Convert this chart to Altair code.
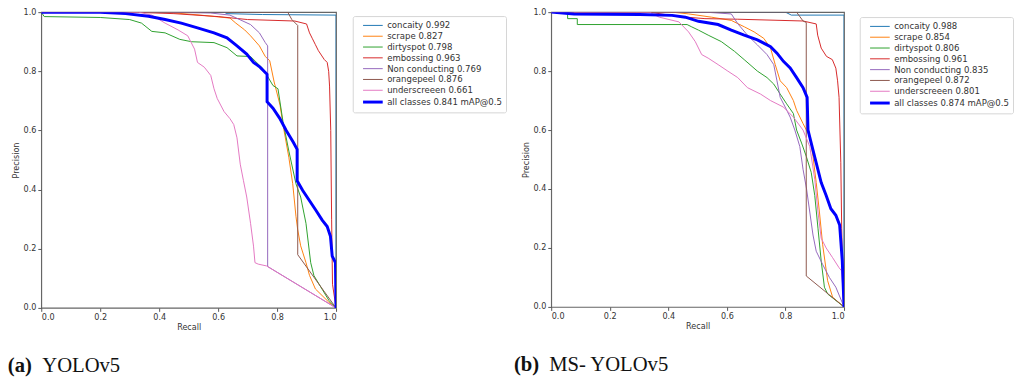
import altair as alt
import pandas as pd

# ---------------- Panel (a) YOLOv5 ----------------
a_labels = ["concaity 0.992", "scrape 0.827", "dirtyspot 0.798", "embossing 0.963",
            "Non conducting 0.769", "orangepeel 0.876", "underscreeen 0.661",
            "all classes 0.841 mAP@0.5"]

a_concaity_r = [0, 0.62, 0.63, 0.75, 1.0, 1.0]
a_concaity_p = [1, 1, 0.995, 0.992, 0.99, 0]

a_scrape_r = [0, 0.42, 0.54, 0.64, 0.66, 0.69, 0.71, 0.74, 0.76, 0.775, 0.79, 0.81, 0.82, 0.83,
              0.84, 0.853, 0.864, 0.87, 0.88, 0.898, 0.91, 0.93, 0.975, 1.0]
a_scrape_p = [1, 1, 0.99, 0.98, 0.963, 0.94, 0.92, 0.886, 0.85, 0.836, 0.764, 0.686, 0.62, 0.564,
              0.508, 0.42, 0.31, 0.264, 0.21, 0.153, 0.11, 0.064, 0.02, 0]

a_dirty_r = [0, 0.01, 0.2, 0.3, 0.34, 0.375, 0.42, 0.47, 0.51, 0.586, 0.63, 0.664, 0.71, 0.753,
             0.786, 0.803, 0.82, 0.84, 0.864, 0.88, 0.898, 0.914, 0.925, 0.976, 1.0]
a_dirty_p = [1, 0.985, 0.982, 0.975, 0.963, 0.935, 0.93, 0.908, 0.9, 0.897, 0.88, 0.852, 0.85, 0.808,
             0.752, 0.741, 0.63, 0.53, 0.42, 0.375, 0.286, 0.153, 0.109, 0.025, 0]

a_emb_r = [0, 0.3, 0.45, 0.6, 0.7, 0.86, 0.9, 0.91, 0.92, 0.93, 0.94, 0.95, 0.96, 0.97,
           0.975, 0.978, 0.982, 0.985, 0.988, 1.0]
a_emb_p = [1, 1, 0.995, 0.985, 0.975, 0.97, 0.96, 0.93, 0.91, 0.89, 0.87, 0.855, 0.84, 0.83,
           0.8, 0.75, 0.6, 0.3, 0.08, 0]

a_noncond_r = [0, 0.4, 0.575, 0.64, 0.71, 0.74, 0.76, 0.768, 0.768, 1.0]
a_noncond_p = [1, 1, 0.997, 0.99, 0.958, 0.93, 0.897, 0.886, 0.14, 0]

a_orange_r = [0, 0.836, 0.85, 0.865, 0.87, 0.87, 1.0]
a_orange_p = [1, 1, 0.975, 0.96, 0.955, 0.18, 0]

a_under_r = [0, 0.33, 0.375, 0.42, 0.464, 0.497, 0.52, 0.53, 0.553, 0.575, 0.586, 0.597, 0.62,
             0.64, 0.653, 0.664, 0.675, 0.686, 0.697, 0.71, 0.72, 0.725, 0.736, 0.764, 1.0]
a_under_p = [1, 1, 0.99, 0.963, 0.94, 0.92, 0.875, 0.83, 0.814, 0.786, 0.741, 0.708, 0.664,
             0.64, 0.62, 0.575, 0.486, 0.43, 0.375, 0.286, 0.209, 0.153, 0.148, 0.142, 0]

a_all_r = [0, 0.2, 0.286, 0.364, 0.42, 0.475, 0.53, 0.586, 0.63, 0.664, 0.697, 0.72, 0.742,
           0.766, 0.766, 0.786, 0.809, 0.831, 0.855, 0.868, 0.868, 0.887, 0.909, 0.931, 0.953,
           0.97, 0.981, 0.987, 0.998, 1.0]
a_all_p = [1, 1, 0.995, 0.986, 0.975, 0.963, 0.947, 0.93, 0.913, 0.886, 0.858, 0.83, 0.814,
           0.79, 0.697, 0.675, 0.641, 0.6, 0.56, 0.536, 0.43, 0.397, 0.364, 0.331, 0.297,
           0.275, 0.242, 0.175, 0.153, 0]

# ---------------- Panel (b) MS- YOLOv5 ----------------
b_labels = ["concaity 0.988", "scrape 0.854", "dirtyspot 0.806", "embossing 0.961",
            "Non conducting 0.835", "orangepeel 0.872", "underscreeen 0.801",
            "all classes 0.874 mAP@0.5"]

b_concaity_r = [0, 0.8, 0.82, 1.0, 1.0]
b_concaity_p = [1, 1, 0.99, 0.99, 0]

b_scrape_r = [0, 0.413, 0.47, 0.547, 0.615, 0.66, 0.693, 0.726, 0.749, 0.765, 0.782, 0.804,
              0.827, 0.838, 0.86, 0.883, 0.894, 0.905, 0.916, 0.927, 0.944, 0.961, 1.0]
b_scrape_p = [1, 1, 0.994, 0.983, 0.972, 0.95, 0.933, 0.911, 0.878, 0.822, 0.767, 0.744,
              0.7, 0.667, 0.622, 0.578, 0.511, 0.422, 0.322, 0.211, 0.089, 0.033, 0]

b_dirty_r = [0, 0.056, 0.056, 0.089, 0.089, 0.464, 0.48, 0.503, 0.536, 0.581, 0.626, 0.659,
             0.704, 0.737, 0.76, 0.782, 0.804, 0.827, 0.838, 0.855, 0.871, 0.888, 0.9, 0.911,
             0.922, 0.933, 0.944, 1.0]
b_dirty_p = [1, 1, 0.978, 0.978, 0.958, 0.958, 0.95, 0.939, 0.922, 0.9, 0.867, 0.839,
             0.8, 0.778, 0.756, 0.722, 0.689, 0.656, 0.6, 0.556, 0.511, 0.456, 0.378, 0.267,
             0.156, 0.067, 0.044, 0]

b_emb_r = [0, 0.335, 0.436, 0.525, 0.637, 0.86, 0.905, 0.91, 0.922, 0.94, 0.96, 0.972,
           0.978, 0.983, 0.989, 0.992, 0.997, 1.0]
b_emb_p = [1, 1, 0.985, 0.978, 0.976, 0.97, 0.96, 0.922, 0.878, 0.85, 0.839, 0.81,
           0.767, 0.711, 0.489, 0.267, 0.044, 0]

b_noncond_r = [0, 0.525, 0.615, 0.637, 0.67, 0.704, 0.737, 0.76, 0.771, 0.782, 0.799, 0.816,
               0.832, 0.849, 0.86, 0.872, 0.883, 0.894, 0.905, 0.927, 0.95, 0.972, 1.0]
b_noncond_p = [1, 1, 0.994, 0.961, 0.922, 0.889, 0.856, 0.822, 0.767, 0.711, 0.678, 0.644,
               0.6, 0.544, 0.467, 0.4, 0.322, 0.244, 0.189, 0.144, 0.1, 0.067, 0]

b_orange_r = [0, 0.838, 0.86, 0.871, 0.871, 1.0]
b_orange_p = [1, 1, 0.97, 0.965, 0.105, 0]

b_under_r = [0, 0.335, 0.369, 0.436, 0.469, 0.492, 0.514, 0.536, 0.57, 0.603, 0.637, 0.67,
             0.715, 0.749, 0.793, 0.827, 0.86, 0.883, 0.9, 0.911, 0.922, 0.939, 0.961, 0.983,
             0.992, 1.0]
b_under_p = [1, 1, 0.983, 0.967, 0.933, 0.9, 0.856, 0.844, 0.822, 0.8, 0.778, 0.744,
             0.722, 0.7, 0.678, 0.644, 0.6, 0.544, 0.433, 0.322, 0.233, 0.2, 0.167, 0.133,
             0.122, 0]

b_all_r = [0, 0.078, 0.302, 0.413, 0.458, 0.503, 0.57, 0.615, 0.659, 0.704, 0.749, 0.771,
           0.793, 0.816, 0.838, 0.86, 0.874, 0.877, 0.888, 0.905, 0.922, 0.939, 0.955, 0.972,
           0.985, 0.994, 1.0]
b_all_p = [1, 0.994, 0.992, 0.989, 0.983, 0.969, 0.958, 0.939, 0.922, 0.906, 0.883, 0.861,
           0.833, 0.811, 0.778, 0.744, 0.711, 0.6, 0.556, 0.489, 0.422, 0.378, 0.333, 0.311,
           0.278, 0.156, 0]

colors = ["#1f77b4", "#ff7f0e", "#2ca02c", "#d62728", "#9467bd", "#8c564b", "#e377c2", "#0000ff"]
widths = [1, 1, 1, 1, 1, 1, 1, 3]
ticks = [0.0, 0.2, 0.4, 0.6, 0.8, 1.0]


def build_df(labels, series):
    rows = []
    for lab, (rs, ps) in zip(labels, series):
        for i, (r, p) in enumerate(zip(rs, ps)):
            rows.append({"label": lab, "recall": r, "precision": p, "idx": i})
    return pd.DataFrame(rows)


def panel(labels, series, w, h, legend_x, legend_y, cap_bold, cap_rest, cap_x, rest_x):
    df = build_df(labels, series)
    leg = alt.Legend(title=None, orient="none", legendX=legend_x, legendY=legend_y)
    lines = alt.Chart(df).mark_line(clip=True).encode(
        x=alt.X("recall:Q", title="Recall", scale=alt.Scale(domain=[0, 1], nice=False),
                axis=alt.Axis(values=ticks, format=".1f")),
        y=alt.Y("precision:Q", title="Precision", scale=alt.Scale(domain=[0, 1], nice=False),
                axis=alt.Axis(values=ticks, format=".1f")),
        color=alt.Color("label:N", scale=alt.Scale(domain=labels, range=colors), legend=leg),
        strokeWidth=alt.StrokeWidth("label:N",
                                    scale=alt.Scale(type="ordinal", domain=labels, range=widths),
                                    legend=leg),
        order=alt.Order("idx:Q"),
    )
    t1 = alt.Chart(pd.DataFrame({"t": [cap_bold]})).mark_text(
        font="Liberation Serif", fontSize=21, fontWeight="bold", align="left",
        baseline="alphabetic", color="#111").encode(
        x=alt.value(cap_x), y=alt.value(h + 65), text="t:N")
    t2 = alt.Chart(pd.DataFrame({"t": [cap_rest]})).mark_text(
        font="Liberation Serif", fontSize=21, align="left",
        baseline="alphabetic", color="#111").encode(
        x=alt.value(rest_x), y=alt.value(h + 65), text="t:N")
    return alt.layer(lines, t1, t2).properties(width=w, height=h)


left = panel(a_labels,
             [(a_concaity_r, a_concaity_p), (a_scrape_r, a_scrape_p), (a_dirty_r, a_dirty_p),
              (a_emb_r, a_emb_p), (a_noncond_r, a_noncond_p), (a_orange_r, a_orange_p),
              (a_under_r, a_under_p), (a_all_r, a_all_p)],
             300, 301, 317, 4, "(a)", "YOLOv5", -34, 1)
right = panel(b_labels,
              [(b_concaity_r, b_concaity_p), (b_scrape_r, b_scrape_p), (b_dirty_r, b_dirty_p),
               (b_emb_r, b_emb_p), (b_noncond_r, b_noncond_p), (b_orange_r, b_orange_p),
               (b_under_r, b_under_p), (b_all_r, b_all_p)],
              298, 300, 314, 5, "(b)", "MS- YOLOv5", -38, -2)

chart = alt.hconcat(left, right, spacing=5).resolve_scale(
    color="independent", strokeWidth="independent"
).properties(
    padding={"left": 7, "top": 3, "right": 0, "bottom": 0}
).configure_view(
    stroke="#666", strokeWidth=1.2
).configure_axis(
    labelFont="DejaVu Sans", labelFontSize=8.2, labelColor="#333",
    titleFont="DejaVu Sans", titleFontSize=8.2, titleFontWeight="normal", titleColor="#333",
    domain=False, grid=False, tickColor="#555", tickSize=3.5, labelPadding=2, titlePadding=3
).configure_legend(
    labelFont="DejaVu Sans", labelFontSize=8.7, labelColor="#333",
    symbolType="M-2,0H2", symbolSize=100, symbolOffset=10, strokeColor="#d5d5d5",
    fillColor="white", padding=4, cornerRadius=2, labelOffset=8, rowPadding=0
)

chart.save("out.html", embed_options={"renderer": "svg", "actions": False})
